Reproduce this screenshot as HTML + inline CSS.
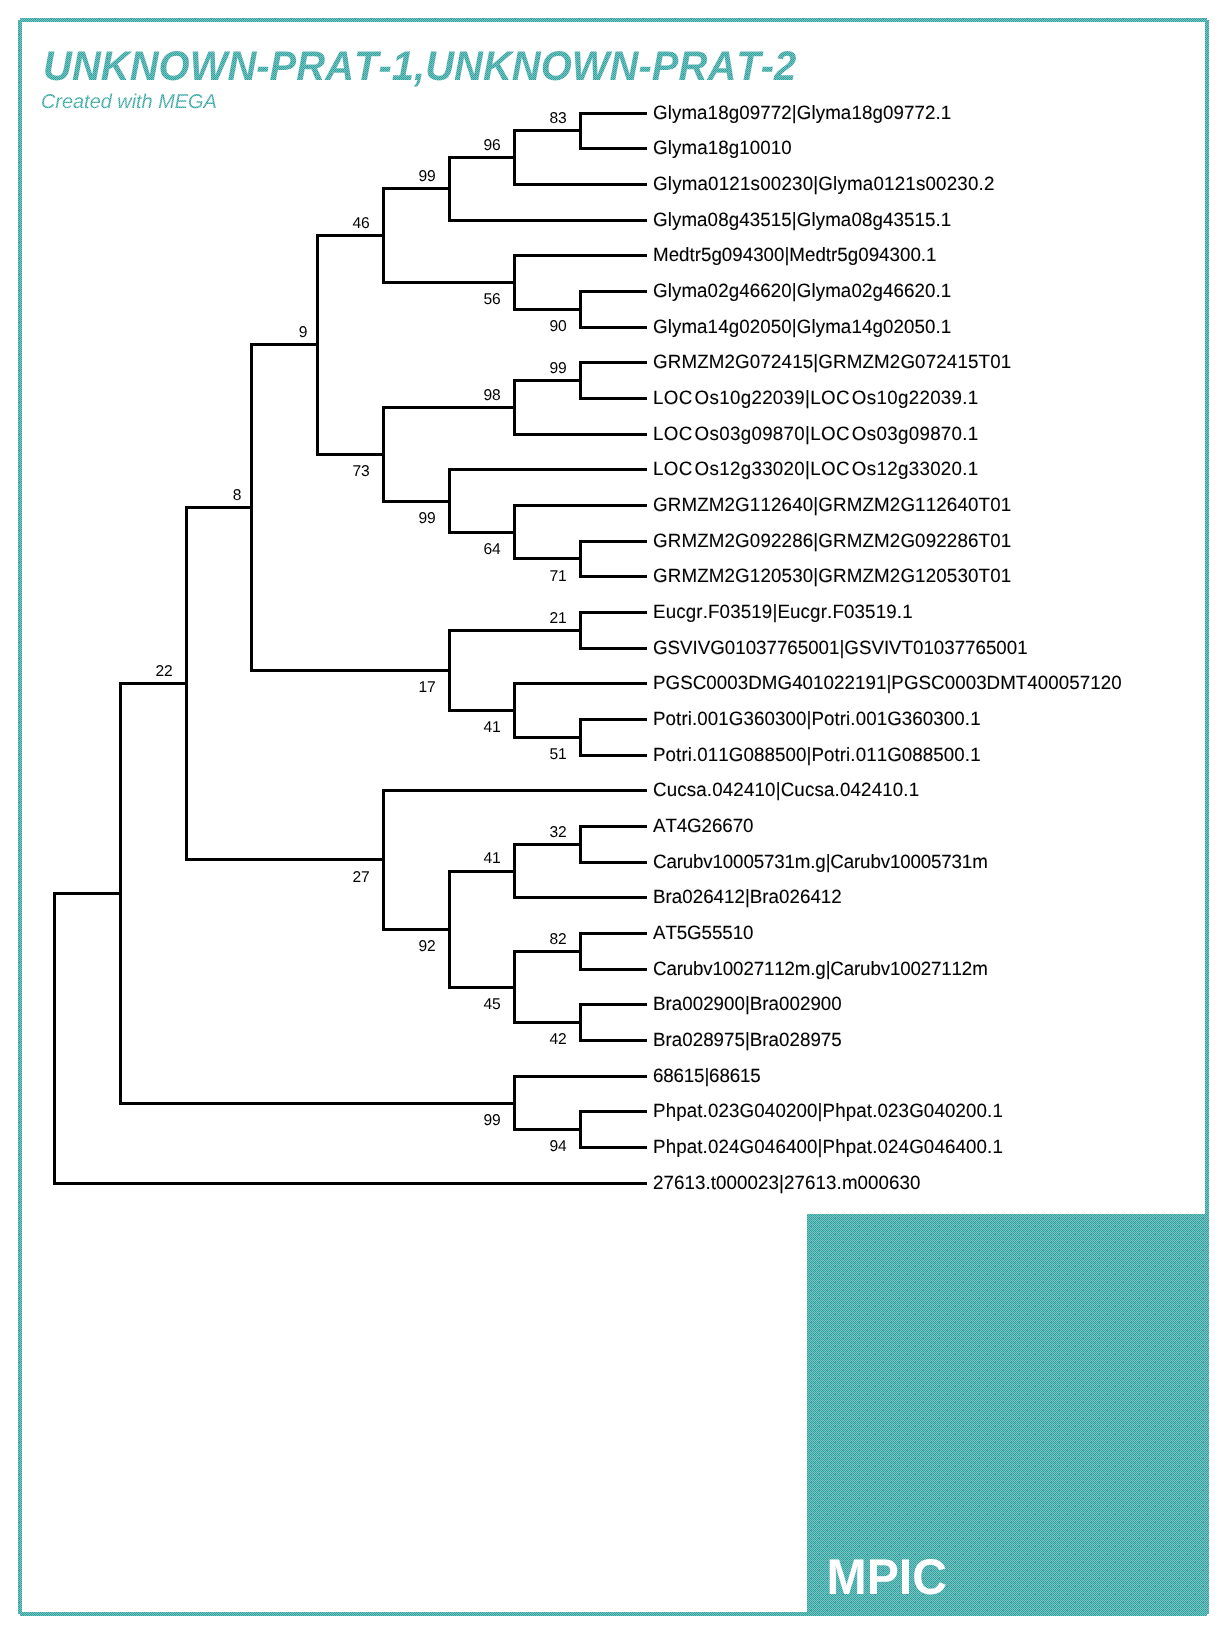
<!DOCTYPE html>
<html><head><meta charset="utf-8"><title>UNKNOWN-PRAT-1,UNKNOWN-PRAT-2</title>
<style>
html,body{margin:0;padding:0;background:#fff;}
body{width:1227px;height:1634px;overflow:hidden;}
svg{display:block;will-change:transform;}
text{font-family:"Liberation Sans",sans-serif;font-kerning:none;text-rendering:geometricPrecision;}
.lf{font-size:18.75px;fill:#000;stroke:#000;stroke-width:0.12px;}
.nm{font-size:15.625px;fill:#000;text-anchor:end;}
</style></head><body>
<svg width="1227" height="1634" viewBox="0 0 1227 1634">
<defs><pattern id="tl" x="0" y="0" width="16" height="16" patternUnits="userSpaceOnUse" shape-rendering="crispEdges"><rect width="16" height="16" fill="#66cccc"/><rect x="0" y="0" width="1" height="1" fill="#669999"/><rect x="2" y="0" width="1" height="1" fill="#669999"/><rect x="4" y="0" width="1" height="1" fill="#669999"/><rect x="6" y="0" width="1" height="1" fill="#669999"/><rect x="8" y="0" width="1" height="1" fill="#669999"/><rect x="10" y="0" width="1" height="1" fill="#669999"/><rect x="12" y="0" width="1" height="1" fill="#669999"/><rect x="14" y="0" width="1" height="1" fill="#669999"/><rect x="1" y="1" width="1" height="1" fill="#339999"/><rect x="3" y="1" width="1" height="1" fill="#339999"/><rect x="5" y="1" width="1" height="1" fill="#339999"/><rect x="7" y="1" width="1" height="1" fill="#339999"/><rect x="9" y="1" width="1" height="1" fill="#339999"/><rect x="11" y="1" width="1" height="1" fill="#339999"/><rect x="13" y="1" width="1" height="1" fill="#339999"/><rect x="15" y="1" width="1" height="1" fill="#339999"/><rect x="0" y="2" width="1" height="1" fill="#669999"/><rect x="2" y="2" width="1" height="1" fill="#339999"/><rect x="3" y="2" width="1" height="1" fill="#669999"/><rect x="4" y="2" width="1" height="1" fill="#669999"/><rect x="6" y="2" width="1" height="1" fill="#339999"/><rect x="8" y="2" width="1" height="1" fill="#669999"/><rect x="10" y="2" width="1" height="1" fill="#339999"/><rect x="11" y="2" width="1" height="1" fill="#66cc99"/><rect x="12" y="2" width="1" height="1" fill="#669999"/><rect x="14" y="2" width="1" height="1" fill="#339999"/><rect x="1" y="3" width="1" height="1" fill="#339999"/><rect x="3" y="3" width="1" height="1" fill="#339999"/><rect x="5" y="3" width="1" height="1" fill="#339999"/><rect x="7" y="3" width="1" height="1" fill="#339999"/><rect x="9" y="3" width="1" height="1" fill="#339999"/><rect x="11" y="3" width="1" height="1" fill="#339999"/><rect x="13" y="3" width="1" height="1" fill="#339999"/><rect x="15" y="3" width="1" height="1" fill="#339999"/><rect x="0" y="4" width="1" height="1" fill="#339999"/><rect x="2" y="4" width="1" height="1" fill="#669999"/><rect x="4" y="4" width="1" height="1" fill="#669999"/><rect x="6" y="4" width="1" height="1" fill="#669999"/><rect x="8" y="4" width="1" height="1" fill="#339999"/><rect x="10" y="4" width="1" height="1" fill="#669999"/><rect x="12" y="4" width="1" height="1" fill="#669999"/><rect x="14" y="4" width="1" height="1" fill="#669999"/><rect x="1" y="5" width="1" height="1" fill="#339999"/><rect x="3" y="5" width="1" height="1" fill="#339999"/><rect x="5" y="5" width="1" height="1" fill="#339999"/><rect x="7" y="5" width="1" height="1" fill="#339999"/><rect x="9" y="5" width="1" height="1" fill="#339999"/><rect x="11" y="5" width="1" height="1" fill="#339999"/><rect x="13" y="5" width="1" height="1" fill="#339999"/><rect x="15" y="5" width="1" height="1" fill="#339999"/><rect x="0" y="6" width="1" height="1" fill="#669999"/><rect x="2" y="6" width="1" height="1" fill="#339999"/><rect x="3" y="6" width="1" height="1" fill="#66cc99"/><rect x="4" y="6" width="1" height="1" fill="#669999"/><rect x="6" y="6" width="1" height="1" fill="#339999"/><rect x="7" y="6" width="1" height="1" fill="#66cc99"/><rect x="8" y="6" width="1" height="1" fill="#669999"/><rect x="10" y="6" width="1" height="1" fill="#339999"/><rect x="11" y="6" width="1" height="1" fill="#66cc99"/><rect x="12" y="6" width="1" height="1" fill="#669999"/><rect x="14" y="6" width="1" height="1" fill="#339999"/><rect x="15" y="6" width="1" height="1" fill="#66cc99"/><rect x="1" y="7" width="1" height="1" fill="#339999"/><rect x="3" y="7" width="1" height="1" fill="#339999"/><rect x="5" y="7" width="1" height="1" fill="#339999"/><rect x="7" y="7" width="1" height="1" fill="#339999"/><rect x="9" y="7" width="1" height="1" fill="#339999"/><rect x="11" y="7" width="1" height="1" fill="#339999"/><rect x="13" y="7" width="1" height="1" fill="#339999"/><rect x="15" y="7" width="1" height="1" fill="#339999"/><rect x="0" y="8" width="1" height="1" fill="#669999"/><rect x="2" y="8" width="1" height="1" fill="#669999"/><rect x="4" y="8" width="1" height="1" fill="#669999"/><rect x="6" y="8" width="1" height="1" fill="#669999"/><rect x="8" y="8" width="1" height="1" fill="#669999"/><rect x="10" y="8" width="1" height="1" fill="#669999"/><rect x="12" y="8" width="1" height="1" fill="#669999"/><rect x="14" y="8" width="1" height="1" fill="#669999"/><rect x="1" y="9" width="1" height="1" fill="#339999"/><rect x="3" y="9" width="1" height="1" fill="#339999"/><rect x="5" y="9" width="1" height="1" fill="#339999"/><rect x="7" y="9" width="1" height="1" fill="#339999"/><rect x="9" y="9" width="1" height="1" fill="#339999"/><rect x="11" y="9" width="1" height="1" fill="#339999"/><rect x="13" y="9" width="1" height="1" fill="#339999"/><rect x="15" y="9" width="1" height="1" fill="#339999"/><rect x="0" y="10" width="1" height="1" fill="#669999"/><rect x="2" y="10" width="1" height="1" fill="#339999"/><rect x="3" y="10" width="1" height="1" fill="#66cc99"/><rect x="4" y="10" width="1" height="1" fill="#669999"/><rect x="6" y="10" width="1" height="1" fill="#339999"/><rect x="8" y="10" width="1" height="1" fill="#669999"/><rect x="10" y="10" width="1" height="1" fill="#339999"/><rect x="11" y="10" width="1" height="1" fill="#669999"/><rect x="12" y="10" width="1" height="1" fill="#669999"/><rect x="14" y="10" width="1" height="1" fill="#339999"/><rect x="1" y="11" width="1" height="1" fill="#339999"/><rect x="3" y="11" width="1" height="1" fill="#339999"/><rect x="5" y="11" width="1" height="1" fill="#339999"/><rect x="7" y="11" width="1" height="1" fill="#339999"/><rect x="9" y="11" width="1" height="1" fill="#339999"/><rect x="11" y="11" width="1" height="1" fill="#339999"/><rect x="13" y="11" width="1" height="1" fill="#339999"/><rect x="15" y="11" width="1" height="1" fill="#339999"/><rect x="0" y="12" width="1" height="1" fill="#339999"/><rect x="2" y="12" width="1" height="1" fill="#669999"/><rect x="4" y="12" width="1" height="1" fill="#669999"/><rect x="6" y="12" width="1" height="1" fill="#669999"/><rect x="8" y="12" width="1" height="1" fill="#339999"/><rect x="10" y="12" width="1" height="1" fill="#669999"/><rect x="12" y="12" width="1" height="1" fill="#669999"/><rect x="14" y="12" width="1" height="1" fill="#669999"/><rect x="1" y="13" width="1" height="1" fill="#339999"/><rect x="3" y="13" width="1" height="1" fill="#339999"/><rect x="5" y="13" width="1" height="1" fill="#339999"/><rect x="7" y="13" width="1" height="1" fill="#339999"/><rect x="9" y="13" width="1" height="1" fill="#339999"/><rect x="11" y="13" width="1" height="1" fill="#339999"/><rect x="13" y="13" width="1" height="1" fill="#339999"/><rect x="15" y="13" width="1" height="1" fill="#339999"/><rect x="0" y="14" width="1" height="1" fill="#669999"/><rect x="2" y="14" width="1" height="1" fill="#339999"/><rect x="3" y="14" width="1" height="1" fill="#66cc99"/><rect x="4" y="14" width="1" height="1" fill="#669999"/><rect x="6" y="14" width="1" height="1" fill="#339999"/><rect x="7" y="14" width="1" height="1" fill="#66cc99"/><rect x="8" y="14" width="1" height="1" fill="#669999"/><rect x="10" y="14" width="1" height="1" fill="#339999"/><rect x="11" y="14" width="1" height="1" fill="#66cc99"/><rect x="12" y="14" width="1" height="1" fill="#669999"/><rect x="14" y="14" width="1" height="1" fill="#339999"/><rect x="15" y="14" width="1" height="1" fill="#66cc99"/><rect x="1" y="15" width="1" height="1" fill="#339999"/><rect x="3" y="15" width="1" height="1" fill="#339999"/><rect x="5" y="15" width="1" height="1" fill="#339999"/><rect x="7" y="15" width="1" height="1" fill="#339999"/><rect x="9" y="15" width="1" height="1" fill="#339999"/><rect x="11" y="15" width="1" height="1" fill="#339999"/><rect x="13" y="15" width="1" height="1" fill="#339999"/><rect x="15" y="15" width="1" height="1" fill="#339999"/></pattern></defs>
<rect width="1227" height="1634" fill="#fff"/>
<g fill="url(#tl)" shape-rendering="crispEdges">
<rect x="18" y="18" width="1191" height="4"/><rect x="18" y="1612" width="1191" height="4"/><rect x="18" y="18" width="4" height="1598"/><rect x="1205" y="18" width="4" height="1598"/><rect x="807" y="1214" width="402" height="402"/>
</g>
<g fill="#fff" shape-rendering="crispEdges"><rect x="18" y="18" width="2" height="2"/><rect x="1207" y="18" width="2" height="2"/><rect x="18" y="1614" width="2" height="2"/><rect x="1207" y="1614" width="2" height="2"/></g>
<defs><clipPath id="ct"><text transform="translate(43,80.2) scale(1,1.035)" font-size="40" font-weight="bold" font-style="italic">UNKNOWN-PRAT-1,UNKNOWN-PRAT-2</text>
<text transform="translate(41,107.7) scale(1,1.0)" font-size="19.9" font-style="italic">Created with MEGA</text>
</clipPath></defs>
<rect x="30" y="30" width="800" height="90" fill="url(#tl)" clip-path="url(#ct)"/>
<text transform="translate(826.5,1594) scale(1,1.04)" font-size="48.2" font-weight="bold" fill="#fff">MPIC</text>
<g fill="#000" shape-rendering="crispEdges">
<rect x="53" y="892" width="3" height="293"/><rect x="53" y="892" width="66" height="3"/><rect x="119" y="682" width="3" height="423"/><rect x="119" y="682" width="66" height="3"/><rect x="185" y="506" width="3" height="355"/><rect x="185" y="506" width="65" height="3"/><rect x="250" y="343" width="3" height="329"/><rect x="250" y="343" width="66" height="3"/><rect x="316" y="234" width="3" height="222"/><rect x="316" y="234" width="66" height="3"/><rect x="382" y="187" width="3" height="97"/><rect x="382" y="187" width="66" height="3"/><rect x="448" y="156" width="3" height="66"/><rect x="448" y="156" width="65" height="3"/><rect x="513" y="129" width="3" height="57"/><rect x="513" y="129" width="66" height="3"/><rect x="579" y="112" width="3" height="38"/><rect x="579" y="112" width="68" height="3"/><rect x="579" y="147" width="68" height="3"/><rect x="513" y="183" width="134" height="3"/><rect x="448" y="219" width="199" height="3"/><rect x="382" y="281" width="131" height="3"/><rect x="513" y="254" width="3" height="57"/><rect x="513" y="254" width="134" height="3"/><rect x="513" y="308" width="66" height="3"/><rect x="579" y="290" width="3" height="39"/><rect x="579" y="290" width="68" height="3"/><rect x="579" y="326" width="68" height="3"/><rect x="316" y="453" width="66" height="3"/><rect x="382" y="406" width="3" height="97"/><rect x="382" y="406" width="131" height="3"/><rect x="513" y="379" width="3" height="57"/><rect x="513" y="379" width="66" height="3"/><rect x="579" y="361" width="3" height="39"/><rect x="579" y="361" width="68" height="3"/><rect x="579" y="397" width="68" height="3"/><rect x="513" y="433" width="134" height="3"/><rect x="382" y="500" width="66" height="3"/><rect x="448" y="468" width="3" height="66"/><rect x="448" y="468" width="199" height="3"/><rect x="448" y="531" width="65" height="3"/><rect x="513" y="504" width="3" height="56"/><rect x="513" y="504" width="134" height="3"/><rect x="513" y="557" width="66" height="3"/><rect x="579" y="540" width="3" height="38"/><rect x="579" y="540" width="68" height="3"/><rect x="579" y="575" width="68" height="3"/><rect x="250" y="669" width="198" height="3"/><rect x="448" y="629" width="3" height="83"/><rect x="448" y="629" width="131" height="3"/><rect x="579" y="611" width="3" height="39"/><rect x="579" y="611" width="68" height="3"/><rect x="579" y="647" width="68" height="3"/><rect x="448" y="709" width="65" height="3"/><rect x="513" y="682" width="3" height="57"/><rect x="513" y="682" width="134" height="3"/><rect x="513" y="736" width="66" height="3"/><rect x="579" y="718" width="3" height="39"/><rect x="579" y="718" width="68" height="3"/><rect x="579" y="754" width="68" height="3"/><rect x="185" y="858" width="197" height="3"/><rect x="382" y="789" width="3" height="142"/><rect x="382" y="789" width="265" height="3"/><rect x="382" y="928" width="66" height="3"/><rect x="448" y="870" width="3" height="119"/><rect x="448" y="870" width="65" height="3"/><rect x="513" y="843" width="3" height="56"/><rect x="513" y="843" width="66" height="3"/><rect x="579" y="825" width="3" height="39"/><rect x="579" y="825" width="68" height="3"/><rect x="579" y="861" width="68" height="3"/><rect x="513" y="896" width="134" height="3"/><rect x="448" y="986" width="65" height="3"/><rect x="513" y="950" width="3" height="74"/><rect x="513" y="950" width="66" height="3"/><rect x="579" y="932" width="3" height="39"/><rect x="579" y="932" width="68" height="3"/><rect x="579" y="968" width="68" height="3"/><rect x="513" y="1021" width="66" height="3"/><rect x="579" y="1003" width="3" height="39"/><rect x="579" y="1003" width="68" height="3"/><rect x="579" y="1039" width="68" height="3"/><rect x="119" y="1102" width="394" height="3"/><rect x="513" y="1075" width="3" height="56"/><rect x="513" y="1075" width="134" height="3"/><rect x="513" y="1128" width="66" height="3"/><rect x="579" y="1110" width="3" height="39"/><rect x="579" y="1110" width="68" height="3"/><rect x="579" y="1146" width="68" height="3"/><rect x="53" y="1182" width="594" height="3"/>
</g>
<g class="nm">
<text transform="translate(566.80,123.08) scale(1,1)">83</text><text transform="translate(500.80,149.84) scale(1,1)">96</text><text transform="translate(566.80,330.96) scale(1,1)">90</text><text transform="translate(435.80,181.05) scale(1,1)">99</text><text transform="translate(500.80,304.20) scale(1,1)">56</text><text transform="translate(566.80,372.81) scale(1,1)">99</text><text transform="translate(566.80,580.68) scale(1,1)">71</text><text transform="translate(500.80,553.93) scale(1,1)">64</text><text transform="translate(500.80,399.56) scale(1,1)">98</text><text transform="translate(435.80,522.71) scale(1,1)">99</text><text transform="translate(369.80,227.88) scale(1,1)">46</text><text transform="translate(369.80,475.89) scale(1,1)">73</text><text transform="translate(566.80,759.06) scale(1,1)">51</text><text transform="translate(566.80,622.53) scale(1,1)">21</text><text transform="translate(500.80,732.30) scale(1,1)">41</text><text transform="translate(307.50,337.13) scale(1,1)">9</text><text transform="translate(435.80,692.17) scale(1,1)">17</text><text transform="translate(566.80,836.58) scale(1,1)">32</text><text transform="translate(566.80,943.61) scale(1,1)">82</text><text transform="translate(566.80,1044.46) scale(1,1)">42</text><text transform="translate(500.80,863.34) scale(1,1)">41</text><text transform="translate(500.80,1008.78) scale(1,1)">45</text><text transform="translate(435.80,950.81) scale(1,1)">92</text><text transform="translate(241.50,499.90) scale(1,1)">8</text><text transform="translate(369.80,881.69) scale(1,1)">27</text><text transform="translate(566.80,1151.48) scale(1,1)">94</text><text transform="translate(172.80,676.04) scale(1,1)">22</text><text transform="translate(500.80,1124.73) scale(1,1)">99</text>
</g>
<g class="lf">
<text transform="translate(653.0,119.0) scale(1,1.03)" textLength="298.30" lengthAdjust="spacing">Glyma18g09772|Glyma18g09772.1</text><text transform="translate(653.0,154.0) scale(1,1.03)" textLength="138.79" lengthAdjust="spacing">Glyma18g10010</text><text transform="translate(653.0,190.0) scale(1,1.03)" textLength="341.40" lengthAdjust="spacing">Glyma0121s00230|Glyma0121s00230.2</text><text transform="translate(653.0,226.0) scale(1,1.03)" textLength="298.30" lengthAdjust="spacing">Glyma08g43515|Glyma08g43515.1</text><text transform="translate(653.0,261.0) scale(1,1.03)" textLength="283.51" lengthAdjust="spacing">Medtr5g094300|Medtr5g094300.1</text><text transform="translate(653.0,297.0) scale(1,1.03)" textLength="298.30" lengthAdjust="spacing">Glyma02g46620|Glyma02g46620.1</text><text transform="translate(653.0,333.0) scale(1,1.03)" textLength="298.30" lengthAdjust="spacing">Glyma14g02050|Glyma14g02050.1</text><text transform="translate(653.0,368.0) scale(1,1.03)" textLength="358.17" lengthAdjust="spacing">GRMZM2G072415|GRMZM2G072415T01</text><text transform="translate(653.0,404.0) scale(1,1.03)" textLength="325.30" lengthAdjust="spacing">LOC <tspan dx="-3.4">O</tspan>s10g22039|LOC <tspan dx="-3.4">O</tspan>s10g22039.1</text><text transform="translate(653.0,440.0) scale(1,1.03)" textLength="325.30" lengthAdjust="spacing">LOC <tspan dx="-3.4">O</tspan>s03g09870|LOC <tspan dx="-3.4">O</tspan>s03g09870.1</text><text transform="translate(653.0,475.0) scale(1,1.03)" textLength="325.30" lengthAdjust="spacing">LOC <tspan dx="-3.4">O</tspan>s12g33020|LOC <tspan dx="-3.4">O</tspan>s12g33020.1</text><text transform="translate(653.0,511.0) scale(1,1.03)" textLength="358.17" lengthAdjust="spacing">GRMZM2G112640|GRMZM2G112640T01</text><text transform="translate(653.0,547.0) scale(1,1.03)" textLength="358.17" lengthAdjust="spacing">GRMZM2G092286|GRMZM2G092286T01</text><text transform="translate(653.0,582.0) scale(1,1.03)" textLength="358.17" lengthAdjust="spacing">GRMZM2G120530|GRMZM2G120530T01</text><text transform="translate(653.0,618.0) scale(1,1.03)" textLength="259.57" lengthAdjust="spacing">Eucgr.F03519|Eucgr.F03519.1</text><text transform="translate(653.0,654.0) scale(1,1.03)" textLength="374.65" lengthAdjust="spacing">GSVIVG01037765001|GSVIVT01037765001</text><text transform="translate(653.0,689.0) scale(1,1.03)" textLength="468.63" lengthAdjust="spacing">PGSC0003DMG401022191|PGSC0003DMT400057120</text><text transform="translate(653.0,725.0) scale(1,1.03)" textLength="327.60" lengthAdjust="spacing">Potri.001G360300|Potri.001G360300.1</text><text transform="translate(653.0,761.0) scale(1,1.03)" textLength="327.60" lengthAdjust="spacing">Potri.011G088500|Potri.011G088500.1</text><text transform="translate(653.0,796.0) scale(1,1.03)" textLength="266.15" lengthAdjust="spacing">Cucsa.042410|Cucsa.042410.1</text><text transform="translate(653.0,832.0) scale(1,1.03)" textLength="100.41" lengthAdjust="spacing">AT4G26670</text><text transform="translate(653.0,868.0) scale(1,1.03)" textLength="334.78" lengthAdjust="spacing">Carubv10005731m.g|Carubv10005731m</text><text transform="translate(653.0,903.0) scale(1,1.03)" textLength="188.76" lengthAdjust="spacing">Bra026412|Bra026412</text><text transform="translate(653.0,939.0) scale(1,1.03)" textLength="100.41" lengthAdjust="spacing">AT5G55510</text><text transform="translate(653.0,975.0) scale(1,1.03)" textLength="334.78" lengthAdjust="spacing">Carubv10027112m.g|Carubv10027112m</text><text transform="translate(653.0,1010.0) scale(1,1.03)" textLength="188.76" lengthAdjust="spacing">Bra002900|Bra002900</text><text transform="translate(653.0,1046.0) scale(1,1.03)" textLength="188.76" lengthAdjust="spacing">Bra028975|Bra028975</text><text transform="translate(653.0,1082.0) scale(1,1.03)" textLength="107.65" lengthAdjust="spacing">68615|68615</text><text transform="translate(653.0,1117.0) scale(1,1.03)" textLength="349.89" lengthAdjust="spacing">Phpat.023G040200|Phpat.023G040200.1</text><text transform="translate(653.0,1153.0) scale(1,1.03)" textLength="349.89" lengthAdjust="spacing">Phpat.024G046400|Phpat.024G046400.1</text><text transform="translate(653.0,1189.0) scale(1,1.03)" textLength="267.53" lengthAdjust="spacing">27613.t000023|27613.m000630</text>
</g>
</svg>
</body></html>
